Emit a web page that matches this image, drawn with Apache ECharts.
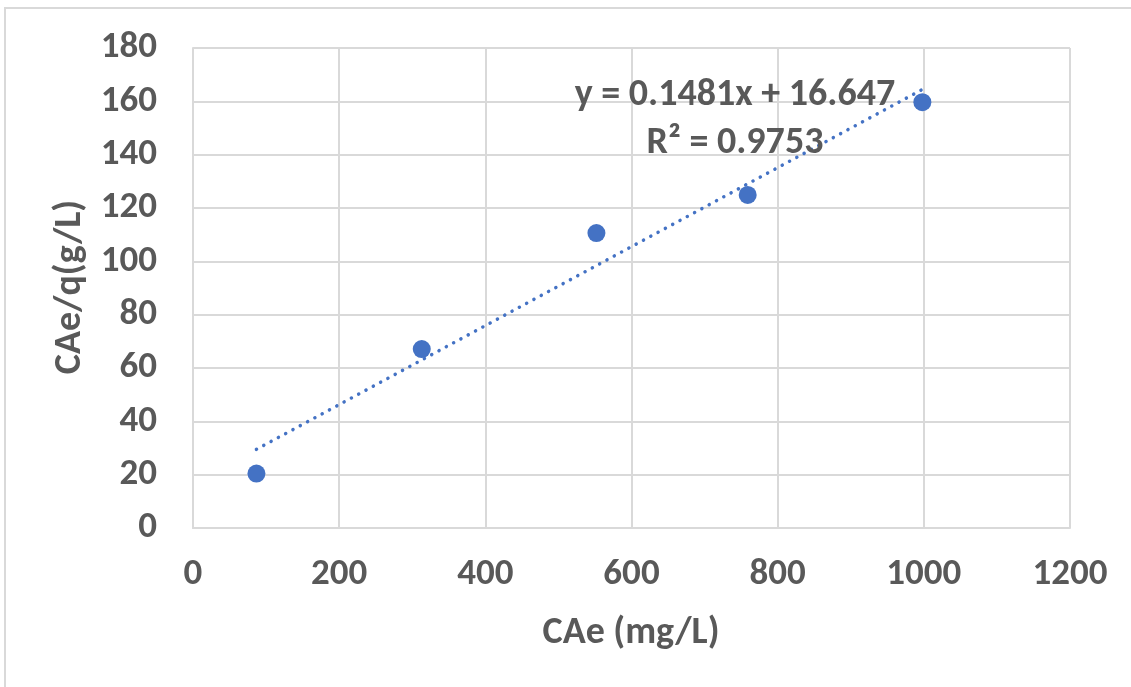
<!DOCTYPE html>
<html>
<head>
<meta charset="utf-8">
<script src="https://cdn.jsdelivr.net/npm/echarts@6/dist/echarts.min.js"></script>
<style>
  html, body { margin: 0; padding: 0; background: #ffffff; }
  #chart { width: 1131px; height: 687px; }
</style>
</head>
<body>
<div id="chart"></div>
<script>
// Measured equilibrium concentration and linearised isotherm values
const cae = [86.8, 313, 552, 759, 998];          // CAe (mg/L)
const caeOverQ = [20.4, 67.1, 110.6, 124.9, 159.7]; // CAe/q (g/L)

// Linear fit reported on the chart
const fitSlope = 0.1481;
const fitIntercept = 16.647;
const fitR2 = 0.9753;

// Axis tick values
const xTicks = [0, 200, 400, 600, 800, 1000, 1200];
const yTicks = [0, 20, 40, 60, 80, 100, 120, 140, 160, 180];

// Axis titles
const xTitle = 'CAe (mg/L)';
const yTitle = 'CAe/q(g/L)';

const FONT = 'Carlito, "Open Sans", Lato, sans-serif';
const TEXT = '#595959';
const GRID = '#d9d9d9';
const BLUE = '#4472C4';

const points = cae.map((x, i) => [x, caeOverQ[i]]);
const xFitStart = Math.min(...cae);
const xFitEnd = Math.max(...cae);
const fitLine = [xFitStart, xFitEnd].map(x => [x, fitSlope * x + fitIntercept]);

const chart = echarts.init(document.getElementById('chart'), null, { renderer: 'canvas' });

const tickStyle = { fontFamily: FONT, fontSize: 37, fontWeight: 'bold', color: TEXT };
const bigFont = 'bold 38px ' + FONT;

chart.setOption({
  animation: false,
  backgroundColor: '#ffffff',
  grid: { left: 193, top: 48, right: 61, bottom: 159, containLabel: false },
  xAxis: {
    type: 'value',
    min: xTicks[0],
    max: xTicks[xTicks.length - 1],
    interval: xTicks[1] - xTicks[0],
    axisLine: { show: true, lineStyle: { color: GRID, width: 2 } },
    axisTick: { show: false },
    splitLine: { show: true, lineStyle: { color: GRID, width: 2 } },
    axisLabel: Object.assign({ margin: 28, formatter: v => String(v) }, tickStyle)
  },
  yAxis: {
    type: 'value',
    min: yTicks[0],
    max: yTicks[yTicks.length - 1],
    interval: yTicks[1] - yTicks[0],
    axisLine: { show: true, lineStyle: { color: GRID, width: 2 } },
    axisTick: { show: false },
    splitLine: { show: true, lineStyle: { color: GRID, width: 2 } },
    axisLabel: Object.assign({ margin: 36, formatter: v => String(v) }, tickStyle)
  },
  series: [
    {
      name: 'Linear fit',
      type: 'line',
      data: fitLine,
      showSymbol: false,
      symbol: 'none',
      z: 2,
      lineStyle: { color: BLUE, width: 3.5, type: [0.1, 8.2], cap: 'round' }
    },
    {
      name: 'CAe/q',
      type: 'scatter',
      data: points,
      symbol: 'circle',
      symbolSize: 18,
      z: 3,
      itemStyle: { color: BLUE, opacity: 1 }
    }
  ],
  graphic: [
    {
      type: 'rect',
      z: -1,
      silent: true,
      shape: { x: 5, y: 8, width: 1200, height: 800 },
      style: { fill: 'none', stroke: GRID, lineWidth: 2 }
    },
    {
      type: 'text',
      silent: true,
      style: { x: 631, y: 633, text: xTitle, font: bigFont, fill: TEXT, align: 'center', verticalAlign: 'middle' }
    },
    {
      type: 'text',
      silent: true,
      x: 70, y: 287,
      rotation: Math.PI / 2,
      style: { x: 0, y: 0, text: yTitle, font: bigFont, fill: TEXT, align: 'center', verticalAlign: 'middle' }
    },
    {
      type: 'text',
      z: 10,
      silent: true,
      style: {
        x: 735, y: 95,
        text: 'y = ' + fitSlope + 'x + ' + fitIntercept,
        font: bigFont, fill: TEXT, align: 'center', verticalAlign: 'middle'
      }
    },
    {
      type: 'text',
      z: 10,
      silent: true,
      style: {
        x: 735, y: 143,
        text: 'R² = ' + fitR2,
        font: bigFont, fill: TEXT, align: 'center', verticalAlign: 'middle'
      }
    }
  ]
});
</script>
</body>
</html>
